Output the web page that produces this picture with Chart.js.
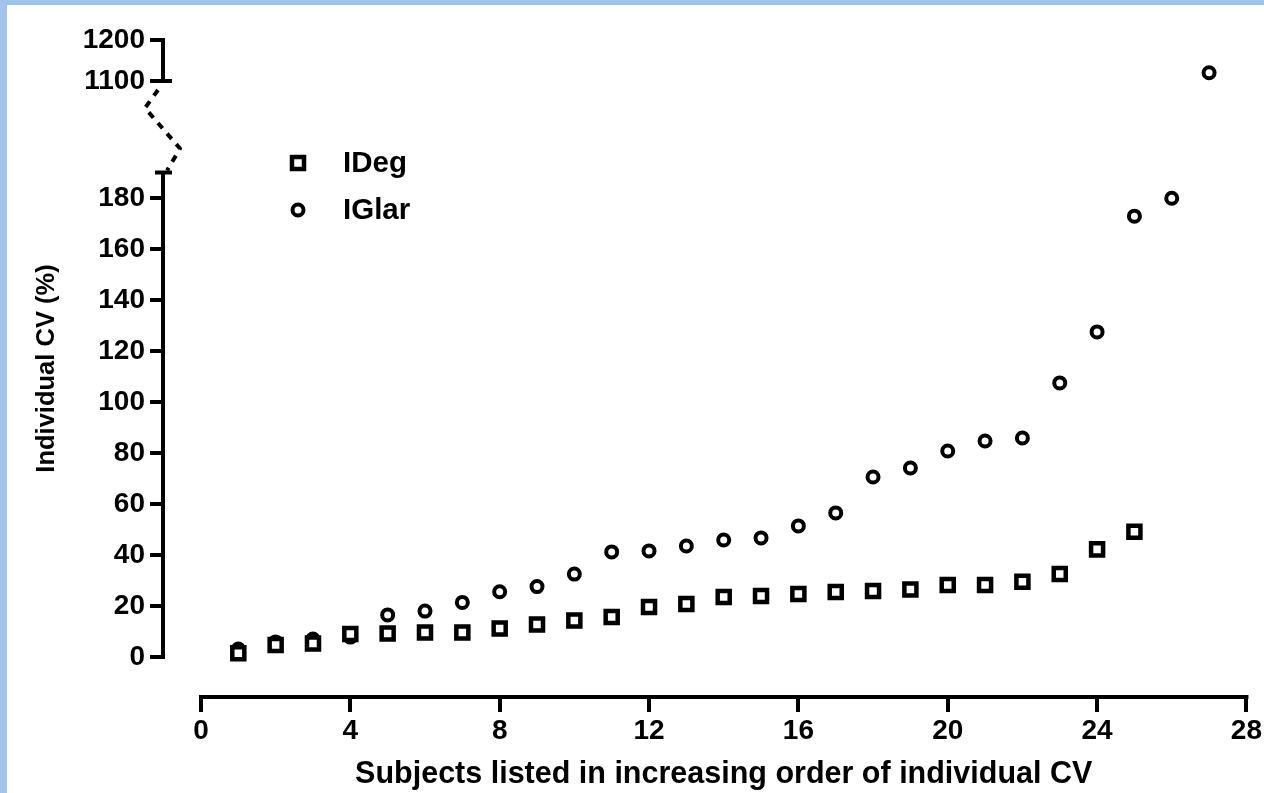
<!DOCTYPE html>
<html>
<head>
<meta charset="utf-8">
<title>Individual CV</title>
<script src="https://cdn.jsdelivr.net/npm/chart.js@4.4.1/dist/chart.umd.min.js"></script>
<style>
  html, body { margin: 0; padding: 0; background: #fff; }
  #wrap { position: relative; width: 1264px; height: 793px; overflow: hidden; }
  #frameTop { position: absolute; left: 0; top: 0; width: 1264px; height: 5px; background: #9dc3e6; }
  #frameLeft { position: absolute; left: 0; top: 0; width: 7px; height: 793px; background: #a3c2ec; }
  canvas { position: absolute; left: 0; top: 0; }
</style>
</head>
<body>
<div id="wrap">
  <canvas id="cvChart" width="1264" height="793"></canvas>
  <div id="frameTop"></div>
  <div id="frameLeft"></div>
</div>
<script>
// subjects (x) and individual CV (%) per insulin
const subjectsIDeg = [1, 2, 3, 4, 5, 6, 7, 8, 9, 10, 11, 12, 13, 14, 15, 16, 17, 18, 19, 20, 21, 22, 23, 24, 25];
const cvIDeg = [1.5, 4.7, 5.3, 9.0, 9.2, 9.6, 9.6, 11.2, 12.7, 14.3, 15.7, 19.6, 20.8, 23.5, 23.9, 24.7, 25.5, 25.9, 26.5, 28.2, 28.2, 29.5, 32.5, 42.2, 49.1];

const subjectsIGlar = [1, 2, 3, 4, 5, 6, 7, 8, 9, 10, 11, 12, 13, 14, 15, 16, 17, 18, 19, 20, 21, 22, 23, 24, 25, 26, 27];
const cvIGlar = [3.1, 5.9, 7.0, 7.8, 16.5, 18.0, 21.4, 25.6, 27.6, 32.5, 41.2, 41.6, 43.5, 45.9, 46.7, 51.4, 56.5, 70.6, 74.1, 80.8, 84.7, 85.9, 107.5, 127.5, 172.9, 179.9, 1120];

const xTickValues = [0, 4, 8, 12, 16, 20, 24, 28];
const yTickValues = [0, 20, 40, 60, 80, 100, 120, 140, 160, 180, 1100, 1200];

// broken y axis: lower part and upper part
const lowMin = -15.7, lowMax = 225.9, lowTop = 190;
const highMin = 1100, highMax = 1200;
const split = 616 / 657;

class BrokenScale extends Chart.LinearScale {
    toDecimal(v) {
        if (v <= lowMax) return (v - lowMin) / (lowMax - lowMin) * split;
        return split + (v - highMin) / (highMax - highMin) * (1 - split);
    }
    getPixelForValue(value) {
        return this.getPixelForDecimal(this.toDecimal(value));
    }
    getValueForPixel(pixel) {
        const d = this.getDecimalForPixel(pixel);
        if (d <= split) return lowMin + d / split * (lowMax - lowMin);
        return highMin + (d - split) / (1 - split) * (highMax - highMin);
    }
}
BrokenScale.id = "broken";
BrokenScale.defaults = Chart.LinearScale.defaults;
Chart.register(BrokenScale);

const fontFamily = "'Liberation Sans', Arial, sans-serif";
Chart.defaults.font.family = fontFamily;
Chart.defaults.font.weight = "bold";
Chart.defaults.color = "#000";

function toPoints(xs, ys) {
    return ys.map((v, i) => ({ x: xs[i], y: v }));
}

const series = [
    { label: "IDeg", style: "rect", radius: 8.5, width: 4.5 },
    { label: "IGlar", style: "circle", radius: 5.5, width: 4 }
];

// prism style axes, axis break, legend and x title
const prismPlugin = {
    id: "prismAxes",
    beforeDatasetsDraw(chart) {
        const ctx = chart.ctx;
        const x = chart.scales.x;
        const y = chart.scales.y;
        const ax = chart.chartArea.left;
        const bottom = chart.chartArea.bottom;
        ctx.save();
        ctx.strokeStyle = "#000";
        ctx.lineWidth = 4;
        ctx.lineCap = "butt";

        // lower y segment
        ctx.beginPath();
        ctx.moveTo(ax, y.getPixelForValue(0) + 2);
        ctx.lineTo(ax, y.getPixelForValue(lowTop));
        ctx.moveTo(ax - 8, y.getPixelForValue(lowTop));
        ctx.lineTo(ax + 9, y.getPixelForValue(lowTop));
        // upper y segment
        ctx.moveTo(ax, y.getPixelForValue(highMin));
        ctx.lineTo(ax, y.getPixelForValue(highMax) - 2);
        ctx.moveTo(ax, y.getPixelForValue(highMin));
        ctx.lineTo(ax + 9, y.getPixelForValue(highMin));
        // x axis
        ctx.moveTo(x.getPixelForValue(0) - 2, bottom);
        ctx.lineTo(x.getPixelForValue(28) + 2, bottom);
        ctx.stroke();

        // break mark
        const pTop = y.getPixelForValue(highMin);
        const pLow = y.getPixelForValue(lowTop);
        ctx.setLineDash([7, 7]);
        ctx.lineWidth = 4;
        ctx.lineJoin = "round";
        ctx.beginPath();
        ctx.moveTo(ax - 5, pTop + 9);
        ctx.lineTo(ax - 18, pTop + 27);
        ctx.lineTo(ax + 17, pLow - 24);
        ctx.lineTo(ax + 4, pLow - 2);
        ctx.stroke();
        ctx.restore();
    },
    afterDraw(chart) {
        const ctx = chart.ctx;
        const area = chart.chartArea;
        const x = chart.scales.x;
        ctx.save();

        // legend
        series.forEach((s, i) => {
            const lx = area.left + 135;
            const ly = area.top + 123 + i * 47;
            ctx.fillStyle = "#fff";
            ctx.strokeStyle = "#000";
            ctx.lineWidth = s.width;
            Chart.helpers.drawPoint(ctx, { pointStyle: s.style, radius: s.radius, borderWidth: s.width, rotation: 0 }, lx, ly);
            ctx.fillStyle = "#000";
            ctx.font = "bold 29.5px " + fontFamily;
            ctx.textAlign = "left";
            ctx.textBaseline = "middle";
            ctx.fillText(s.label, lx + 45, ly + 1);
        });

        // x axis title centred under the axis line
        ctx.font = "bold 30.5px " + fontFamily;
        ctx.textAlign = "center";
        ctx.textBaseline = "middle";
        ctx.fillText("Subjects listed in increasing order of individual CV",
            (x.getPixelForValue(0) + x.getPixelForValue(28)) / 2, area.bottom + 78);
        ctx.restore();
    }
};

new Chart(document.getElementById("cvChart"), {
    type: "scatter",
    data: {
        datasets: [
            {
                label: "IDeg",
                data: toPoints(subjectsIDeg, cvIDeg),
                pointStyle: "rect",
                pointRadius: 8.5,
                pointBorderWidth: 4.5,
                backgroundColor: "#fff",
                borderColor: "#000"
            },
            {
                label: "IGlar",
                data: toPoints(subjectsIGlar, cvIGlar),
                pointStyle: "circle",
                pointRadius: 5.5,
                pointBorderWidth: 4,
                backgroundColor: "#fff",
                borderColor: "#000"
            }
        ]
    },
    options: {
        responsive: false,
        animation: false,
        events: [],
        layout: { padding: { top: 40, right: 17, left: 0, bottom: 0 } },
        plugins: {
            legend: { display: false },
            tooltip: { enabled: false }
        },
        scales: {
            x: {
                type: "linear",
                min: -1.017,
                max: 28,
                afterBuildTicks: s => { s.ticks = xTickValues.map(v => ({ value: v })); },
                afterFit: s => { s.height = 96; },
                grid: { drawOnChartArea: false, drawTicks: true, tickLength: 15, lineWidth: 4, color: "#000" },
                border: { display: false },
                ticks: { autoSkip: false, maxRotation: 0, padding: 2, color: "#000", font: { size: 28, weight: "bold" }, callback: v => String(v) }
            },
            y: {
                type: "broken",
                min: lowMin,
                max: highMax,
                afterBuildTicks: s => { s.ticks = yTickValues.map(v => ({ value: v })); },
                afterFit: s => { s.width = 163; },
                grid: { drawOnChartArea: false, drawTicks: true, tickLength: 13, lineWidth: 4, color: "#000" },
                border: { display: false },
                ticks: { autoSkip: false, padding: 5, color: "#000", font: { size: 28, weight: "bold" }, callback: v => String(v) },
                title: {
                    display: true,
                    text: "Individual CV (%)",
                    color: "#000",
                    font: { size: 25.5, weight: "bold" },
                    padding: { top: 32, bottom: 0 }
                }
            }
        }
    },
    plugins: [prismPlugin]
});
</script>
</body>
</html>
